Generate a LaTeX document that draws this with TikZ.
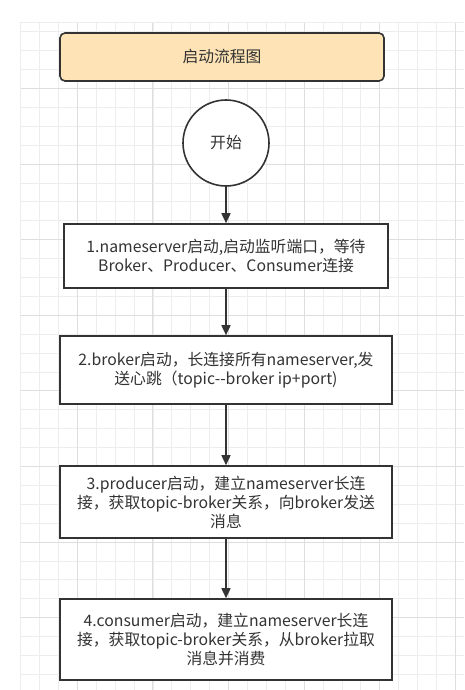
\documentclass[tikz,border=0pt]{standalone}
\usepackage{fontspec}
\setmainfont{Noto Sans CJK SC}
\usetikzlibrary{arrows.meta}
\definecolor{gridminor}{HTML}{EDEDED}
\definecolor{gridmajor}{HTML}{DEDEDE}
\definecolor{ink}{HTML}{333333}
\definecolor{titlefill}{HTML}{FDE3B6}
\begin{document}
\begin{tikzpicture}[x=1pt,y=-1pt,
  box/.style={draw=ink, line width=1.6pt, fill=white, rectangle, text=ink,
    align=center, font=\fontsize{15.8}{19}\selectfont, inner sep=0pt},
  titlebox/.style={box, fill=titlefill, rounded corners=5pt},
  startcircle/.style={draw=ink, line width=1.6pt, fill=white, circle, text=ink,
    minimum size=86pt, inner sep=0pt, font=\fontsize{15.8}{19}\selectfont},
  flow/.style={draw=ink, line width=1.6pt, -{Triangle[length=10pt,width=9pt]}}]
\useasboundingbox (0,0) rectangle (464,690);
\fill[white] (0,0) rectangle (464,690);
% grid
\begin{scope}
\clip (20,22) rectangle (464,690);
\foreach \i in {0,...,23} {
  \pgfmathsetmacro{\xx}{20.6+\i*18.9}
  \draw[gridminor, line width=0.8pt] (\xx,22) -- (\xx,690);
}
\foreach \i in {0,...,35} {
  \pgfmathsetmacro{\yy}{31.7+\i*18.9}
  \draw[gridminor, line width=0.8pt] (20,\yy) -- (464,\yy);
}
\foreach \i in {0,...,5} {
  \pgfmathsetmacro{\xx}{77.3+\i*75.6}
  \draw[gridmajor, line width=0.9pt] (\xx,22) -- (\xx,690);
}
\foreach \i in {0,...,8} {
  \pgfmathsetmacro{\yy}{88.4+\i*75.6}
  \draw[gridmajor, line width=0.9pt] (20,\yy) -- (464,\yy);
}
\draw[gridminor, line width=0.8pt] (20,22) -- (464,22);
\draw[gridminor, line width=0.8pt] (20,22) -- (20,690);
\end{scope}
% nodes
\node[titlebox, minimum width=324pt, minimum height=48pt] (title) at (222,57) {启动流程图};
\node[startcircle] (start) at (226,143) {开始};
\node[box, minimum width=324pt, minimum height=64pt] (s1) at (226,256)
  {1.nameserver启动,启动监听端口，等待\\Broker、Producer、Consumer连接};
\node[box, minimum width=332pt, minimum height=68pt] (s2) at (226,370)
  {2.broker启动，长连接所有nameserver,发\\送心跳（topic-{}-broker ip+port)};
\node[box, minimum width=332pt, minimum height=72pt] (s3) at (226,502)
  {3.producer启动，建立nameserver长连\\接，获取topic-broker关系，向broker发送\\消息};
\node[box, minimum width=332pt, minimum height=81pt] (s4) at (226,639.5)
  {4.consumer启动，建立nameserver长连\\接，获取topic-broker关系，从broker拉取\\消息并消费};
% connectors
\draw[flow] (start.south) -- (s1.north);
\draw[flow] (s1.south) -- (s2.north);
\draw[flow] (s2.south) -- (s3.north);
\draw[flow] (s3.south) -- (s4.north);
\end{tikzpicture}
\end{document}
